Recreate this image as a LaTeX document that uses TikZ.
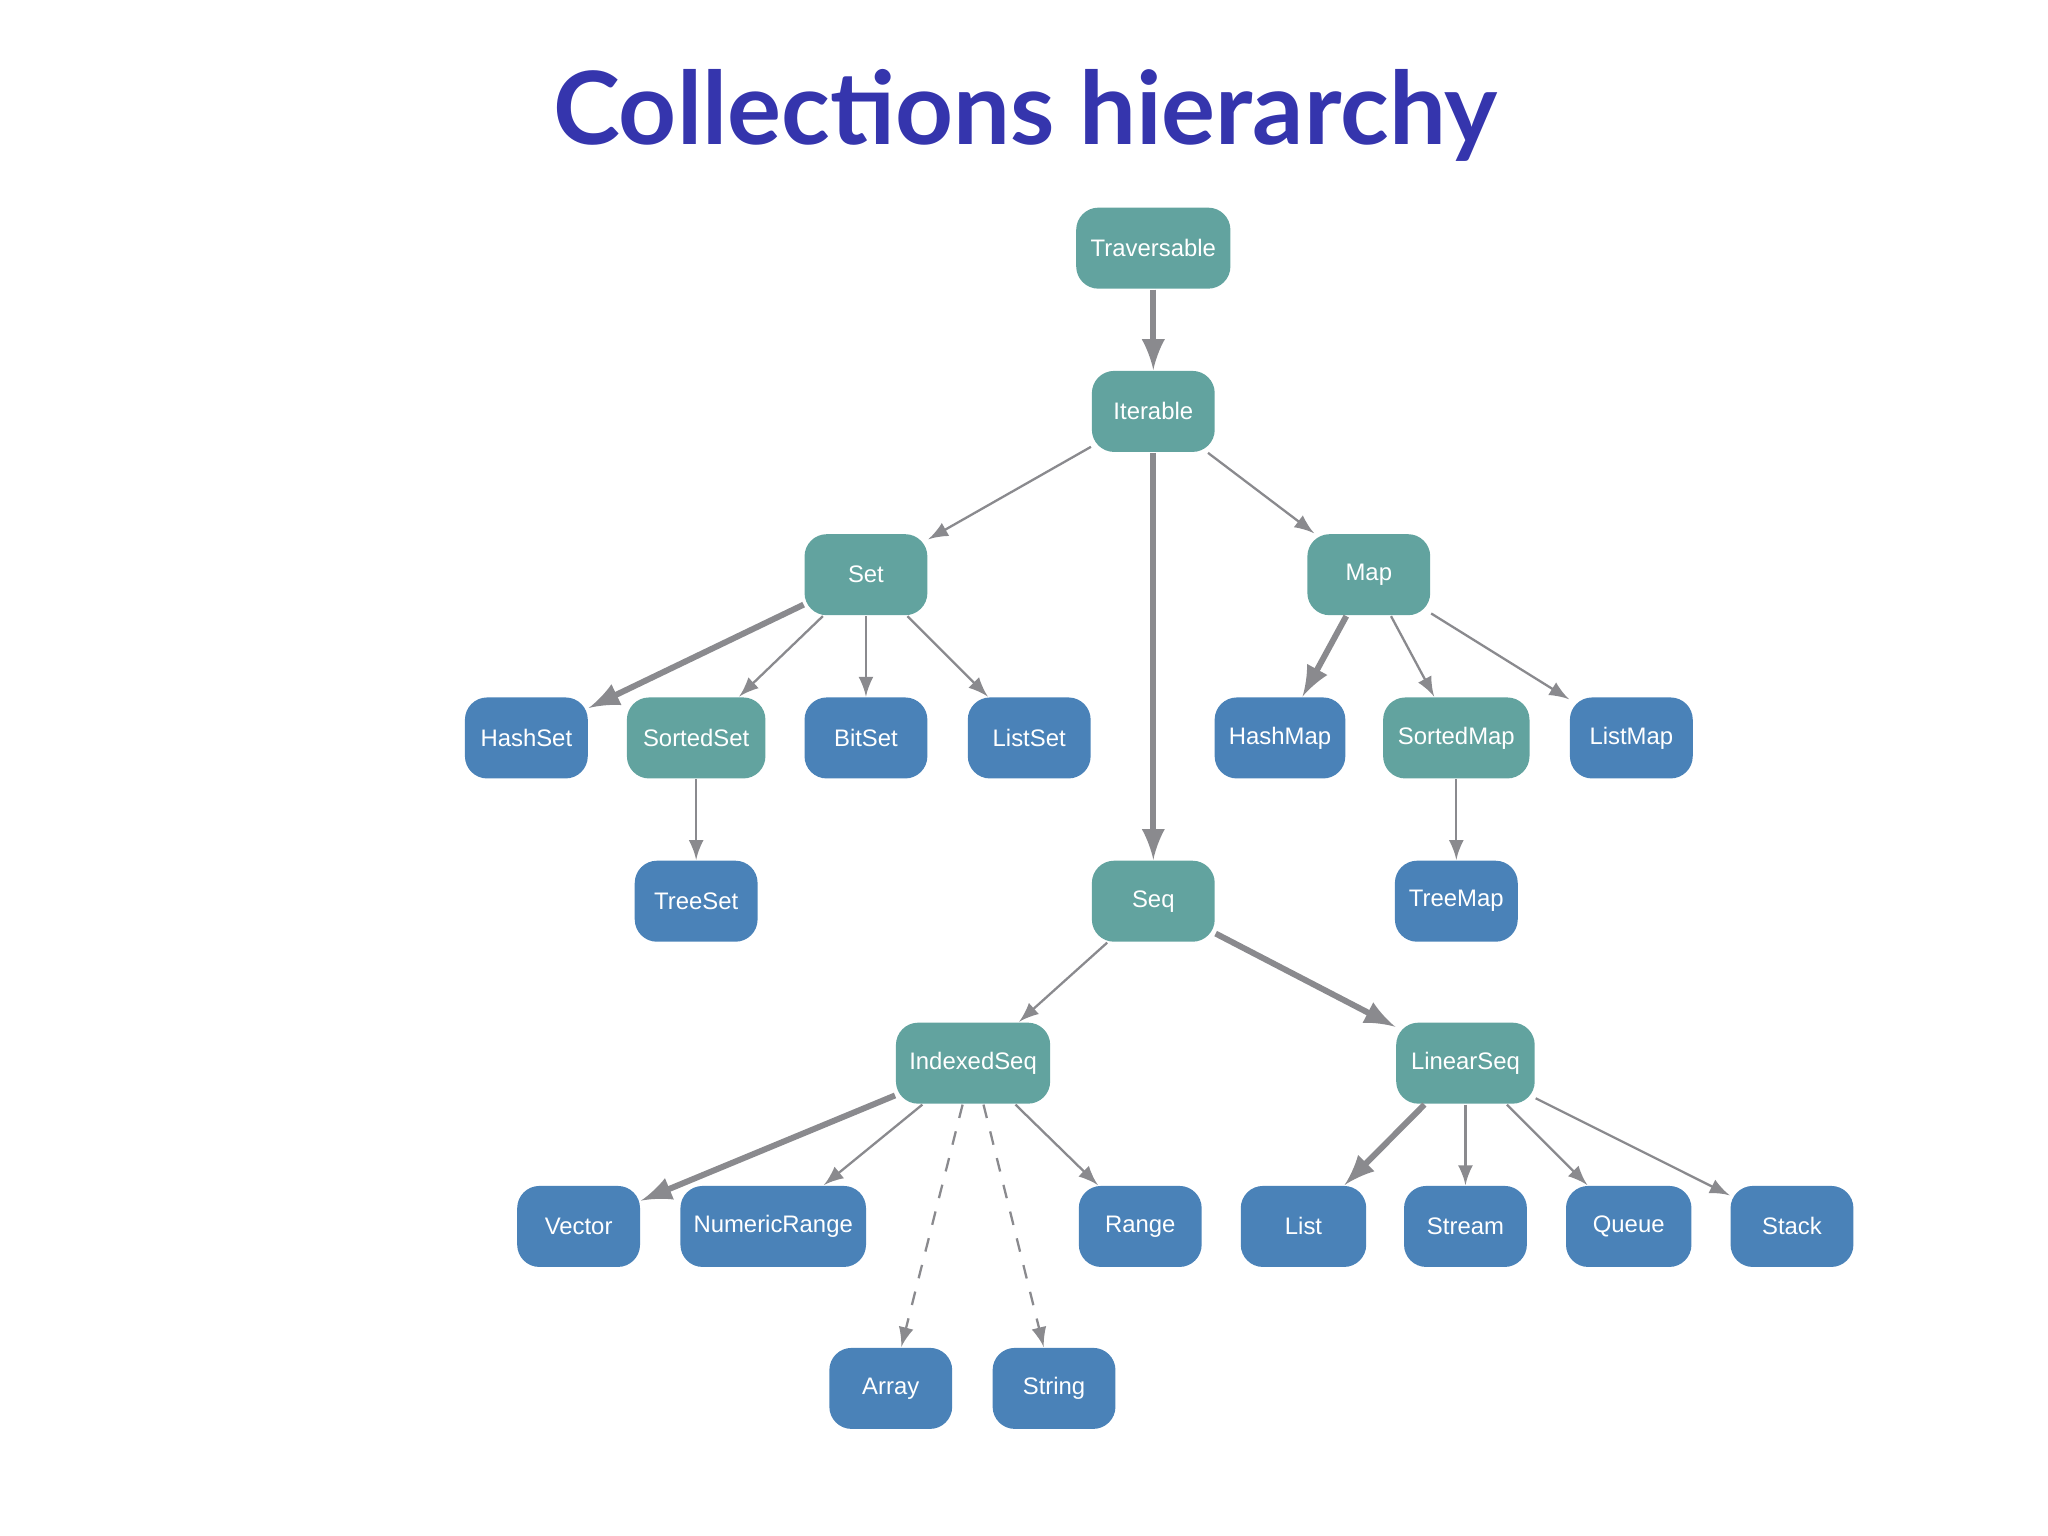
\documentclass[tikz,border=0pt]{standalone}
\usepackage{fontspec}
\setmainfont{Liberation Sans}
\newfontfamily\titlefont{Lato}
\usetikzlibrary{arrows, positioning}
\definecolor{tealbox}{HTML}{62A39F}
\definecolor{bluebox}{HTML}{4A82B8}
\definecolor{titleblue}{HTML}{3535AD}
\definecolor{edgegray}{HTML}{8A8A8E}

\begin{document}
\begin{tikzpicture} [
        x=0.01cm, y=-0.01cm,
        box/.style = {rounded corners=0.17cm, minimum height=0.62cm, minimum width=0.94cm,
                      text=white, font=\fontsize{5.2}{6}\selectfont, inner sep=1pt},
        trait/.style = {box, fill=tealbox},
        klass/.style = {box, fill=bluebox},
        edge/.style = {draw=edgegray, -latex, line width=0.5pt},
        heavy/.style = {edge, line width=1.3pt},
        weak/.style = {edge, dashed}
    ]
    \useasboundingbox (0,0) rectangle (1568,1176);

    \node[text=titleblue, font=\titlefont\bfseries\fontsize{22}{26}\selectfont] (title) at (785,88) {Collections hierarchy};

    % upper part
    \node[trait, minimum width=1.18cm] (trav) at (883,190) {Traversable};
    \node[trait] (iter) at (883,315) {Iterable};
    \node[trait] (set) at (663,440) {Set};
    \node[trait] (map) at (1048,440) {Map};

    \node[klass] (hashset) at (403,565) {HashSet};
    \node[trait, minimum width=1.06cm] (sortedset) at (533,565) {SortedSet};
    \node[klass] (bitset) at (663,565) {BitSet};
    \node[klass] (listset) at (788,565) {ListSet};
    \node[klass, minimum width=1.0cm] (hashmap) at (980,565) {HashMap};
    \node[trait, minimum width=1.12cm] (sortedmap) at (1115,565) {SortedMap};
    \node[klass] (listmap) at (1249,565) {ListMap};

    \node[klass] (treeset) at (533,690) {TreeSet};
    \node[trait] (seq) at (883,690) {Seq};
    \node[klass] (treemap) at (1115,690) {TreeMap};

    % lower part
    \node[trait, minimum width=1.18cm] (indexed) at (745,814) {IndexedSeq};
    \node[trait, minimum width=1.06cm] (linear) at (1122,814) {LinearSeq};

    \node[klass] (vector) at (443,939) {Vector};
    \node[klass, minimum width=1.42cm] (numrange) at (592,939) {NumericRange};
    \node[klass] (range) at (873,939) {Range};
    \node[klass, minimum width=0.96cm] (list) at (998,939) {List};
    \node[klass] (stream) at (1122,939) {Stream};
    \node[klass, minimum width=0.96cm] (queue) at (1247,939) {Queue};
    \node[klass] (stack) at (1372,939) {Stack};

    \node[klass] (array) at (682,1063) {Array};
    \node[klass] (string) at (807,1063) {String};

    \path[heavy] (trav) -- (iter);
    \path[heavy] (iter) -- (seq);
    \path[edge] (iter) -- (set);
    \path[edge] (iter) -- (map);

    \path[heavy] (set) -- (hashset);
    \path[edge] (set) -- (sortedset);
    \path[edge] (set) -- (bitset);
    \path[edge] (set) -- (listset);
    \path[edge] (sortedset) -- (treeset);

    \path[heavy] (map) -- (hashmap);
    \path[edge] (map) -- (sortedmap);
    \path[edge] (map) -- (listmap);
    \path[edge] (sortedmap) -- (treemap);

    \path[edge] (seq) -- (indexed);
    \path[heavy] (seq) -- (linear);

    \path[heavy] (indexed) -- (vector);
    \path[edge] (indexed) -- (numrange);
    \path[edge] (indexed) -- (range);
    \path[weak] ([xshift=-0.08cm]indexed.south) -- (array);
    \path[weak] ([xshift=0.08cm]indexed.south) -- (string);

    \path[heavy] (linear) -- (list);
    \path[edge] (linear) -- (stream);
    \path[edge] (linear) -- (queue);
    \path[edge] (linear) -- (stack);
\end{tikzpicture}
\end{document}
